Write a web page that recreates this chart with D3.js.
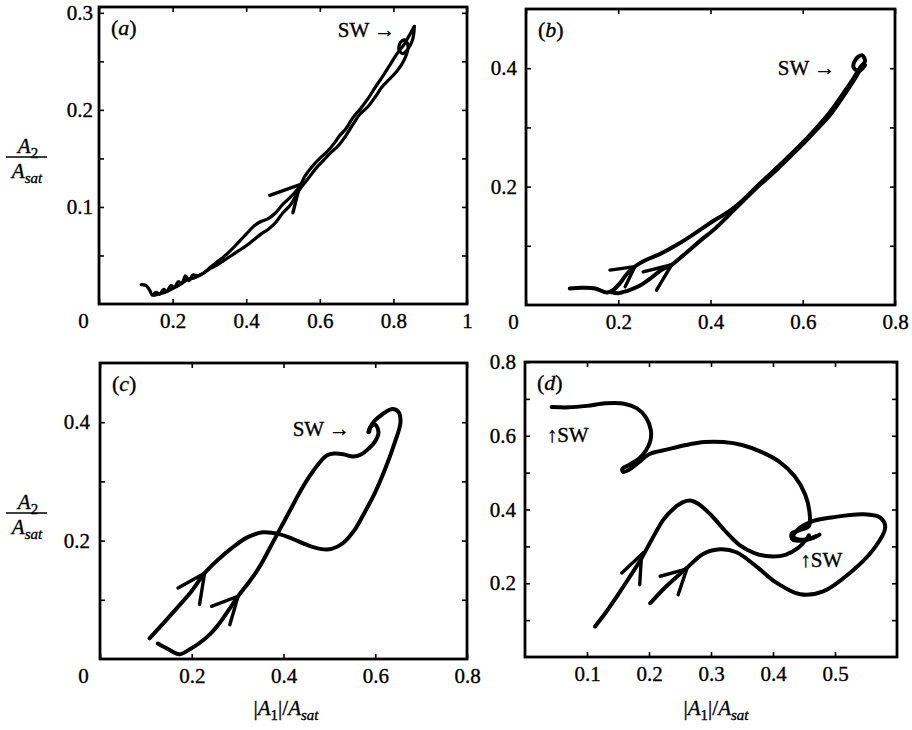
<!DOCTYPE html>
<html>
<head>
<meta charset="utf-8">
<script src="https://cdnjs.cloudflare.com/ajax/libs/d3/7.8.5/d3.min.js"></script>
<style>
  body { margin: 0; background: #fff; }
  text { font-family: "Liberation Serif", "Times New Roman", serif; fill: #000; stroke: #000; stroke-width: 0.35px; }
</style>
</head>
<body>
<svg id="chart" width="912" height="730"></svg>
<script>
// ---- panel (a) ----
const aStrand1 = [
  [0.115,0.020],[0.128,0.019],[0.138,0.014],[0.145,0.009],[0.155,0.012],[0.165,0.010],[0.175,0.015],
  [0.185,0.013],[0.195,0.019],[0.205,0.017],[0.215,0.023],[0.225,0.021],[0.235,0.029],[0.245,0.024],
  [0.255,0.030],[0.27,0.029],[0.285,0.032],[0.30,0.037],[0.32,0.043],[0.34,0.049],[0.36,0.056],
  [0.38,0.064],[0.40,0.072],[0.42,0.080],[0.44,0.085],[0.46,0.088],[0.48,0.094],[0.50,0.103],
  [0.52,0.110],[0.545,0.121],[0.56,0.132],[0.58,0.142],[0.60,0.150],[0.62,0.157],[0.64,0.166],
  [0.655,0.174],[0.67,0.180],[0.69,0.192],[0.71,0.201],[0.73,0.211],[0.75,0.223],[0.77,0.234],
  [0.79,0.246],[0.81,0.258],[0.83,0.268],[0.845,0.278],[0.857,0.286]
];
const aStrand2 = [
  [0.857,0.286],[0.852,0.272],[0.838,0.262],[0.825,0.258],[0.815,0.262],[0.82,0.27],[0.832,0.272],
  [0.84,0.265],[0.83,0.252],[0.81,0.240],[0.79,0.232],[0.77,0.224],[0.75,0.213],[0.73,0.203],
  [0.71,0.196],[0.69,0.185],[0.67,0.173],[0.65,0.163],[0.63,0.156],[0.61,0.148],[0.59,0.140],
  [0.57,0.130],[0.545,0.118],[0.52,0.102],[0.50,0.094],[0.48,0.084],[0.46,0.077],[0.44,0.072],
  [0.42,0.066],[0.40,0.060],[0.38,0.055],[0.36,0.050],[0.34,0.045],[0.32,0.040],[0.30,0.036],
  [0.28,0.031],[0.26,0.027],[0.24,0.025],[0.22,0.020],[0.20,0.016],[0.18,0.012],[0.16,0.010],[0.15,0.009]
];
const aArrows = [ [[0.464,0.112],[0.546,0.123],[0.527,0.094]] ];
const aXTicks = [0, 0.2, 0.4, 0.6, 0.8, 1];
const aYTicks = [0.05, 0.1, 0.15, 0.2, 0.25, 0.3];
const aYLabels = [0.1, 0.2, 0.3];

// ---- panel (b) ----
const bPath1 = [
  [0.095,0.028],[0.12,0.029],[0.15,0.028],[0.175,0.021],[0.19,0.026],[0.205,0.038],[0.218,0.052],
  [0.236,0.065],[0.26,0.076],[0.29,0.086],[0.33,0.103],[0.37,0.123],[0.41,0.144],[0.44,0.158],
  [0.47,0.177],[0.5,0.2],[0.54,0.229],[0.58,0.259],[0.62,0.291],[0.66,0.327],[0.69,0.36],
  [0.71,0.383],[0.725,0.402],[0.735,0.412],[0.728,0.422],[0.715,0.415],[0.71,0.402],[0.722,0.395],[0.735,0.405]
];
const bPath2 = [
  [0.185,0.022],[0.2,0.02],[0.22,0.024],[0.245,0.032],[0.27,0.045],[0.295,0.06],[0.316,0.068],
  [0.35,0.09],[0.38,0.11],[0.41,0.129],[0.44,0.152],[0.47,0.175],[0.5,0.198],[0.54,0.226],
  [0.58,0.256],[0.62,0.288],[0.66,0.322],[0.69,0.355],[0.715,0.385],[0.73,0.405]
];
const bArrows = [
  [[0.182,0.059],[0.236,0.065],[0.215,0.031]],
  [[0.254,0.056],[0.316,0.068],[0.283,0.025]]
];
const bXTicks = [0, 0.2, 0.4, 0.6, 0.8];
const bYTicks = [0.1, 0.2, 0.3, 0.4];
const bYLabels = [0.2, 0.4];

// ---- panel (c) ----
const cPath1 = [
  [0.108,0.035],[0.14,0.062],[0.17,0.088],[0.2,0.115],[0.228,0.145],[0.255,0.166],[0.285,0.186],
  [0.32,0.205],[0.355,0.214],[0.39,0.211],[0.42,0.203],[0.45,0.193],[0.48,0.186],[0.505,0.186],
  [0.53,0.196],[0.555,0.218],[0.575,0.245],[0.6,0.282],[0.62,0.318],[0.64,0.36],[0.655,0.40],
  [0.65,0.418],[0.635,0.422],[0.615,0.413],[0.598,0.402],[0.588,0.39],[0.585,0.383]
];
const cPath2 = [
  [0.126,0.026],[0.15,0.016],[0.173,0.008],[0.195,0.016],[0.217,0.027],[0.24,0.042],[0.26,0.06],
  [0.28,0.082],[0.301,0.106],[0.325,0.13],[0.348,0.156],[0.37,0.187],[0.392,0.219],[0.415,0.252],
  [0.435,0.281],[0.458,0.31],[0.479,0.332],[0.495,0.344],[0.51,0.347],[0.53,0.346],[0.552,0.342],
  [0.57,0.346],[0.585,0.355],[0.6,0.368],[0.607,0.383],[0.6,0.396],[0.59,0.392],[0.587,0.384]
];
const cArrows = [
  [[0.170,0.120],[0.228,0.145],[0.217,0.092]],
  [[0.243,0.089],[0.301,0.106],[0.283,0.058]]
];
const cXTicks = [0, 0.2, 0.4, 0.6, 0.8];
const cYTicks = [0.1, 0.2, 0.3, 0.4];
const cYLabels = [0.2, 0.4];

// ---- panel (d) ----
const dPath1 = [
  [0.043,0.678],[0.07,0.677],[0.1,0.681],[0.13,0.688],[0.16,0.687],[0.18,0.675],[0.195,0.65],
  [0.203,0.615],[0.202,0.585],[0.195,0.56],[0.183,0.537],[0.168,0.521],[0.157,0.51],[0.158,0.502],
  [0.168,0.508],[0.185,0.53],[0.2,0.55],[0.23,0.563],[0.26,0.575],[0.29,0.583],[0.32,0.583],
  [0.35,0.575],[0.38,0.557],[0.41,0.53],[0.435,0.49],[0.452,0.44],[0.459,0.39],[0.458,0.355],
  [0.445,0.345],[0.43,0.334],[0.432,0.318],[0.448,0.316],[0.465,0.323],[0.475,0.332]
];
const dPath2 = [
  [0.113,0.083],[0.13,0.12],[0.148,0.164],[0.168,0.215],[0.188,0.268],[0.205,0.32],[0.223,0.372],
  [0.24,0.403],[0.255,0.42],[0.268,0.424],[0.28,0.415],[0.3,0.385],[0.325,0.338],[0.345,0.305],
  [0.37,0.282],[0.395,0.273],[0.42,0.277],[0.44,0.295],[0.452,0.315],[0.458,0.33]
];
const dPath3 = [
  [0.202,0.146],[0.228,0.192],[0.26,0.24],[0.288,0.28],[0.315,0.292],[0.341,0.284],[0.373,0.246],
  [0.406,0.201],[0.444,0.17],[0.481,0.178],[0.524,0.228],[0.562,0.292],[0.581,0.352],[0.573,0.378],
  [0.546,0.387],[0.497,0.379],[0.46,0.366],[0.438,0.342],[0.433,0.325],[0.449,0.318],[0.47,0.328]
];
const dArrows = [
  [[0.156,0.228],[0.188,0.278],[0.185,0.196]],
  [[0.218,0.219],[0.261,0.239],[0.247,0.169]]
];
const dXTicks = [0.1, 0.2, 0.3, 0.4, 0.5];
const dYTicks = [0.1, 0.2, 0.3, 0.4, 0.5, 0.6, 0.7, 0.8];
const dYLabels = [0.2, 0.4, 0.6, 0.8];

const svg = d3.select("#chart");
const fmt = d3.format("");

const panels = [
  { tag: "a", box: [99, 467, 7, 304], xDom: [0, 1], yDom: [0, 0.306],
    paths: [aStrand1, aStrand2], arrows: aArrows, lw: 3.2,
    xTicks: aXTicks, yTicks: aYTicks, yLabels: aYLabels, zeroDx: -16, yPad: 6,
    notes: [{ t: "SW \u2192", x: 0.649, y: 0.275 }] },
  { tag: "b", box: [526, 895, 9, 305], xDom: [0, 0.8], yDom: [0, 0.5],
    paths: [bPath1, bPath2], arrows: bArrows, lw: 4,
    xTicks: bXTicks, yTicks: bYTicks, yLabels: bYLabels, zeroDx: -13, yPad: 9,
    notes: [{ t: "SW \u2192", x: 0.546, y: 0.388 }] },
  { tag: "c", box: [100, 467, 363, 659], xDom: [0, 0.8], yDom: [0, 0.5],
    paths: [cPath1, cPath2], arrows: cArrows, lw: 4,
    xTicks: cXTicks, yTicks: cYTicks, yLabels: cYLabels, zeroDx: -17, yPad: 10,
    notes: [{ t: "SW \u2192", x: 0.42, y: 0.376 }] },
  { tag: "d", box: [525, 897, 362, 657], xDom: [0, 0.6], yDom: [0, 0.8],
    paths: [dPath1, dPath2, dPath3], arrows: dArrows, lw: 4,
    xTicks: dXTicks, yTicks: dYTicks, yLabels: dYLabels, zeroDx: 0, yPad: 9,
    notes: [{ t: "\u2191SW", x: 0.035, y: 0.584 }, { t: "\u2191SW", x: 0.444, y: 0.245 }] }
];

panels.forEach(p => {
  const [l, r, t, b] = p.box;
  const x = d3.scaleLinear().domain(p.xDom).range([l, r]);
  const y = d3.scaleLinear().domain(p.yDom).range([b, t]);
  const g = svg.append("g");
  const has = (arr, v) => arr.some(a => Math.abs(a - v) < 1e-9);

  // axes with inward ticks on all four sides
  const ax = g.append("g").attr("transform", `translate(0,${b})`)
    .call(d3.axisBottom(x).tickValues(p.xTicks).tickFormat(fmt).tickSizeInner(-5).tickSizeOuter(0).tickPadding(9));
  ax.selectAll(".tick text").filter(d => d === 0).attr("dx", p.zeroDx);
  g.append("g").attr("transform", `translate(0,${t})`)
    .call(d3.axisTop(x).tickValues(p.xTicks).tickFormat("").tickSizeInner(-5).tickSizeOuter(0));
  g.append("g").attr("transform", `translate(${l},0)`)
    .call(d3.axisLeft(y).tickValues(p.yTicks).tickFormat(d => has(p.yLabels, d) ? fmt(d) : "")
      .tickSizeInner(-5).tickSizeOuter(0).tickPadding(p.yPad));
  g.append("g").attr("transform", `translate(${r},0)`)
    .call(d3.axisRight(y).tickValues(p.yTicks).tickFormat("").tickSizeInner(-5).tickSizeOuter(0));

  g.selectAll(".domain").remove();
  g.selectAll(".tick line").attr("stroke", "#000").attr("stroke-width", 1.6);
  g.selectAll(".tick text").style("font-size", "21px").style("font-family", "'Liberation Serif', serif");

  g.append("rect")
    .attr("x", l).attr("y", t).attr("width", r - l).attr("height", b - t)
    .attr("fill", "none").attr("stroke", "#000").attr("stroke-width", 2.8);

  const line = d3.line().x(d => x(d[0])).y(d => y(d[1])).curve(d3.curveCatmullRom.alpha(0.5));
  g.selectAll(".traj").data(p.paths).enter().append("path")
    .attr("class", "traj")
    .attr("d", line)
    .attr("fill", "none").attr("stroke", "#000").attr("stroke-width", p.lw)
    .attr("stroke-linejoin", "round").attr("stroke-linecap", "round");

  const straight = d3.line().x(d => x(d[0])).y(d => y(d[1]));
  g.selectAll(".arrow").data(p.arrows).enter().append("path")
    .attr("class", "arrow")
    .attr("d", straight)
    .attr("fill", "none").attr("stroke", "#000").attr("stroke-width", 3.4)
    .attr("stroke-linejoin", "miter").attr("stroke-linecap", "round");

  // SW annotations
  p.notes.forEach(n => {
    g.append("text").attr("x", x(n.x)).attr("y", y(n.y))
      .style("font-size", "21px").text(n.t);
  });

  // panel tag
  const tag = g.append("text").attr("x", l + 12).attr("y", t + 28).style("font-size", "22px");
  tag.append("tspan").text("(");
  tag.append("tspan").style("font-style", "italic").text(p.tag);
  tag.append("tspan").text(")");
});

// y labels: A2 / Asat beside the left panels
[7, 363].forEach(top => {
  const a2 = svg.append("text").attr("x", 28).attr("y", top + 146)
    .attr("text-anchor", "middle").style("font-size", "21px");
  a2.append("tspan").style("font-style", "italic").text("A");
  a2.append("tspan").attr("dy", 5).style("font-size", "15px").text("2");
  svg.append("line").attr("x1", 6).attr("x2", 47).attr("y1", top + 150).attr("y2", top + 150)
    .attr("stroke", "#000").attr("stroke-width", 1.3);
  const as = svg.append("text").attr("x", 27).attr("y", top + 171)
    .attr("text-anchor", "middle").style("font-size", "21px");
  as.append("tspan").style("font-style", "italic").text("A");
  as.append("tspan").attr("dy", 5).style("font-size", "15px").style("font-style", "italic").text("sat");
});

// x labels |A1|/Asat under the bottom panels
[286, 716].forEach(cx => {
  const tx = svg.append("text").attr("x", cx).attr("y", 715)
    .attr("text-anchor", "middle").style("font-size", "21px");
  tx.append("tspan").text("|");
  tx.append("tspan").style("font-style", "italic").text("A");
  tx.append("tspan").attr("dy", 5).style("font-size", "15px").text("1");
  tx.append("tspan").attr("dy", -5).text("|/");
  tx.append("tspan").style("font-style", "italic").text("A");
  tx.append("tspan").attr("dy", 5).style("font-size", "15px").style("font-style", "italic").text("sat");
});
</script>
</body>
</html>
